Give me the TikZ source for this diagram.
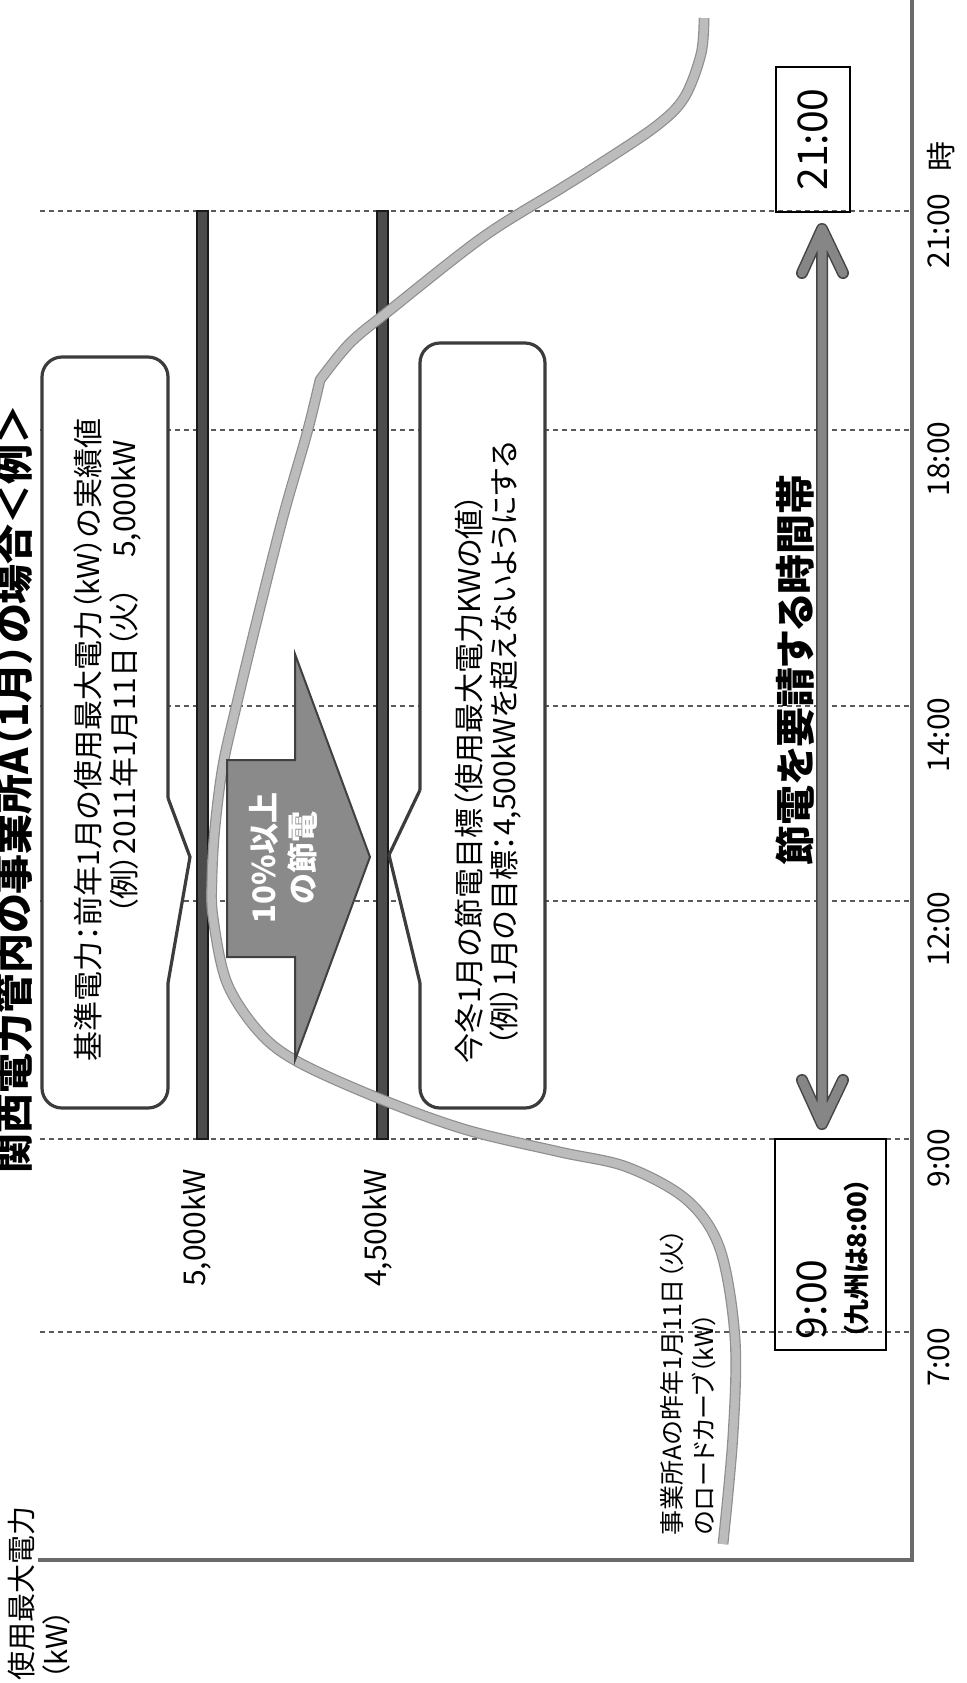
\documentclass[tikz,border=0pt]{standalone}
\usepackage{fontspec}
\setmainfont{Noto Sans CJK JP}[RawFeature=+palt]
\usetikzlibrary{calc}
\definecolor{gridc}{HTML}{5A5A5A}
\definecolor{axisc}{HTML}{6A6A6A}
\definecolor{barfill}{HTML}{4C4C4C}
\definecolor{baredge}{HTML}{1A1A1A}
\definecolor{calloutc}{HTML}{3C3C3C}
\definecolor{curveedge}{HTML}{8E8E8E}
\definecolor{curvefill}{HTML}{BCBCBC}
\definecolor{arrfill}{HTML}{8A8A8A}
\definecolor{arredge}{HTML}{404040}
\definecolor{dbledge}{HTML}{454545}
\definecolor{dblfill}{HTML}{868686}
\begin{document}
\begin{tikzpicture}[x=0.5pt,y=-0.5pt,
  rt/.style={rotate=90, inner sep=0pt, outer sep=0pt},
  gridline/.style={draw=gridc, line width=0.6pt, dash pattern=on 2.5pt off 2pt},
  axisline/.style={draw=axisc, line width=1.6pt},
  barbox/.style={fill=barfill, draw=baredge, line width=0.6pt},
  callout/.style={draw=calloutc, line width=1.6pt, line join=round},
  loadcurve/.style={draw=curveedge, line width=0.6pt, double=curvefill, double distance=4.2pt},
  bigarrow/.style={fill=arrfill, draw=arredge, line width=1pt, line join=miter},
  dblout/.style={draw=dbledge, line width=6pt, line cap=round, line join=round},
  dblin/.style={draw=dblfill, line width=4.5pt, line cap=round, line join=round},
  tbox/.style={rotate=90, draw=black, line width=1pt, inner sep=0pt},
  boxtxt/.style={rt, font=\fontsize{15pt}{18pt}\selectfont},
  ticklbl/.style={rt, font=\fontsize{15pt}{18pt}\selectfont},
  kwlbl/.style={rt, font=\fontsize{15pt}{18pt}\selectfont},
  bigtime/.style={rt, font=\fontsize{20.5pt}{24pt}\selectfont}
]
\useasboundingbox (0,0) rectangle (966,1683);
\begin{scope}
\clip (0,0) rectangle (966,1683);
\fill[white] (0,0) rectangle (966,1683);

% grid lines (times)
\foreach \yy in {211,430,706,901,1139,1332}
  \draw[gridline] (40,\yy) -- (912,\yy);

% axes
\draw[axisline] (912,-5) -- (912,1560) -- (38,1560);

% level bars
\draw[barbox] (197,211) rectangle (208,1139);
\draw[barbox] (377,211) rectangle (388,1139);

% callout 1
\fill[white, rounded corners=10pt] (42,357) rectangle (168,1108);
\fill[white] (168,798) -- (190,857) -- (168,983) -- cycle;
\draw[callout, rounded corners=10pt] (168,798) -- (168,357) -- (42,357) -- (42,1108) -- (168,1108) -- (168,983);
\draw[callout] (168,798) -- (190,857) -- (168,983);

% callout 2
\fill[white, rounded corners=10pt] (420,343) rectangle (545,1108);
\fill[white] (420,790) -- (389,855) -- (420,983) -- cycle;
\draw[callout, rounded corners=10pt] (420,790) -- (420,343) -- (545,343) -- (545,1108) -- (420,1108) -- (420,983);
\draw[callout] (420,790) -- (389,855) -- (420,983);

% load curve
\draw[loadcurve, line join=miter]
  plot[smooth, tension=0.55] coordinates {(723,1544) (733,1435) (735,1338) (720,1249) (687,1200) (627,1167) (560,1152) (467,1130) (383,1100) (300,1063) (260,1033) (227,983) (213,917) (212,877) (215,827) (223,765) (237,703) (257,620) (283,517) (307,433) (320,380)}
  -- plot[smooth, tension=0.55] coordinates {(320,380) (350,343) (390,310) (483,237) (560,189) (595,167) (655,127) (684,98) (701,54) (704,18)};

% big reduction arrow
\draw[bigarrow] (227,760) -- (295,760) -- (295,654) -- (370,857) -- (295,1060) -- (295,957) -- (227,957) -- cycle;
\node[rt, align=center, text=white, font=\bfseries\fontsize{15.5pt}{19.5pt}\selectfont] (arrtxt) at (283,858) {10\%以上\\の節電};

% title and axis label
\node[rt, font=\bfseries\fontsize{20pt}{24pt}\selectfont] (title) at (13,789) {関西電力管内の事業所A（1月）の場合＜例＞};
\node[rt, anchor=west, font=\fontsize{14.5pt}{16pt}\selectfont] (ylab1) at (22,1680) {使用最大電力};
\node[rt, anchor=west, font=\fontsize{14.5pt}{16pt}\selectfont] (ylab2) at (56,1680) {（kW）};

% callout texts
\node[boxtxt] (b1a) at (88,740) {基準電力：前年1月の使用最大電力（kW）の実績値};
\node[boxtxt] (b1b) at (126,677) {（例）2011年1月11日（火）　5,000kW};
\node[boxtxt] (b2a) at (469,779) {今冬1月の節電目標（使用最大電力KWの値）};
\node[boxtxt] (b2b) at (506,744) {（例）1月の目標：4,500kWを超えないようにする};

% level labels
\node[kwlbl] (lbl5) at (196,1228) {5,000kW};
\node[kwlbl] (lbl45) at (377,1228) {4,500kW};

% curve label
\node[rt, anchor=west, align=left, font=\fontsize{12.5pt}{16pt}\selectfont] (curvelbl) at (688,1535) {事業所Aの昨年1月11日（火）\\のロードカーブ（kW）};

% time boxes
\node[tbox, minimum width=72.5pt, minimum height=37pt, font=\fontsize{20.5pt}{24pt}\selectfont] (t21) at (813,139.5) {21:00};
\node[tbox, minimum width=105.5pt, minimum height=55.5pt] (t9) at (830.5,1244.5) {};
\node[bigtime, anchor=west] (t9a) at (812,1339) {9:00};
\node[rt, anchor=west, font=\bfseries\fontsize{13pt}{15pt}\selectfont] (t9b) at (857,1339) {（九州は8:00）};

% request period double arrow
\coordinate (dtop) at (822,229);
\coordinate (dbot) at (822,1124);
\draw[dblout] ($(dtop)+(-20,44)$) -- (dtop) -- ($(dtop)+(21,44)$) (dtop) -- (dbot) ($(dbot)+(-20,-44)$) -- (dbot) -- ($(dbot)+(21,-44)$);
\draw[dblin] ($(dtop)+(-20,44)$) -- (dtop) -- ($(dtop)+(21,44)$) (dtop) -- (dbot) ($(dbot)+(-20,-44)$) -- (dbot) -- ($(dbot)+(21,-44)$);
\node[rt, font=\bfseries\fontsize{20pt}{24pt}\selectfont] (band) at (795,670) {節電を要請する時間帯};

% time axis labels
\node[ticklbl] (tk7) at (939,1357) {7:00};
\node[ticklbl] (tk9) at (939,1158) {9:00};
\node[ticklbl] (tk12) at (939,929) {12:00};
\node[ticklbl] (tk14) at (939,735) {14:00};
\node[ticklbl] (tk18) at (939,459) {18:00};
\node[ticklbl] (tk21) at (939,231) {21:00};
\node[ticklbl] (tkh) at (941,156) {時};
\end{scope}
\end{tikzpicture}
\end{document}
